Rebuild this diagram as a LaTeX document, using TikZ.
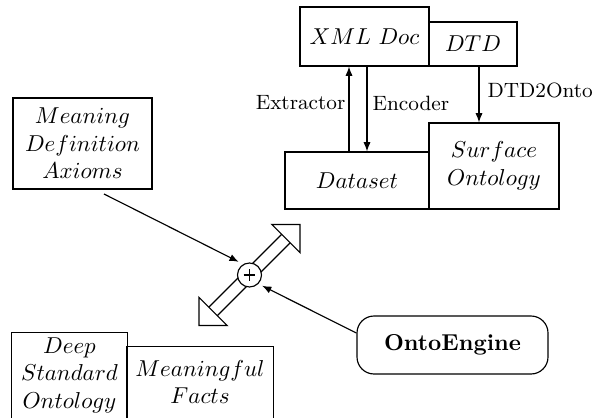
\documentclass[tikz,border=0pt]{standalone}
\usetikzlibrary{arrows.meta}
\newcommand\pxu{0.43478pt}
\begin{document}
\begin{tikzpicture}[x=0.43478pt,y=-0.43478pt, line width=0.5pt,
  box/.style={draw, inner sep=0pt, align=center, font=\normalsize},
  txt/.style={inner sep=0pt, align=center, font=\normalsize},
  lbl/.style={inner sep=0pt, font=\small},
  arr/.style={-{Latex[length=4pt,width=3.1pt]}}]
\clip (0,0) rectangle (592,418);
% top group
\node[box, minimum width=129*\pxu, minimum height=59*\pxu] (xml) at (364.5,36.5) {$XML\ Doc$};
\node[box, minimum width=88*\pxu, minimum height=44*\pxu] (dtd) at (473,44) {$DTD$};
\node[box, minimum width=144*\pxu, minimum height=57*\pxu] (dataset) at (357,180.5) {$Dataset$};
\node[box, minimum width=130*\pxu, minimum height=86*\pxu] (surface) at (494,166) {$Surface$\\$Ontology$};
% left box
\node[box, minimum width=139*\pxu, minimum height=91*\pxu] (meaning) at (82.5,143.5) {$Meaning$\\$Definition$\\$Axioms$};
% bottom boxes (cut by the frame)
\node[txt, minimum width=115*\pxu, minimum height=84*\pxu] (deep) at (69.5,375) {$Deep$\\$Standard$\\$Ontology$};
\node[txt, minimum width=146*\pxu, minimum height=70*\pxu] (facts) at (200,382) {$Meaningful$\\$Facts$};
\draw ([yshift=-10pt]deep.south west) |- (deep.north east) -- ([yshift=-10pt]deep.south east);
\draw ([yshift=-10pt]facts.south west) |- (facts.north east) -- ([yshift=-10pt]facts.south east);
% OntoEngine
\node[draw, rounded corners=7.4pt, inner sep=0pt, minimum width=191*\pxu, minimum height=58*\pxu] (oe) at (452.5,345) {\textbf{OntoEngine}};
% double arrow
\begin{scope}[shift={(249.5,275)}, rotate=45, x=0.43478pt, y=0.43478pt]
  \draw (51.5,20) -- (71.5,0) -- (51.5,-20) -- cycle;
  \draw (-51.5,20) -- (-71.5,0) -- (-51.5,-20) -- cycle;
  \draw (-51.5,6) -- (51.5,6);
  \draw (-51.5,-6) -- (51.5,-6);
\end{scope}
\node[circle, draw, fill=white, minimum size=24*\pxu, inner sep=0pt] (c) at (249.5,275) {};
\draw ([xshift=-2.6pt]c.center) -- ([xshift=2.6pt]c.center);
\draw ([yshift=-2.6pt]c.center) -- ([yshift=2.6pt]c.center);
% connectors
\coordinate (ex) at (349,100);
\coordinate (en) at (367,100);
\coordinate (dt) at (479,90);
\draw[arr] (ex |- dataset.north) -- (ex |- xml.south);
\draw[arr] (en |- xml.south) -- (en |- dataset.north);
\draw[arr] (dt |- dtd.south) -- (dt |- surface.north);
\node[lbl, anchor=east] (lex) at (346,103) {Extractor};
\node[lbl, anchor=west] (len) at (372,103) {Encoder};
\node[lbl, anchor=west] (ldt) at (487,90) {DTD2Onto};
\coordinate (ms) at (104,194);
\draw[arr, shorten >=2.2pt] (ms) -- (c.120);
\draw[arr, shorten >=1.8pt] ([yshift=5.2pt]oe.west) -- (c.-45);
\end{tikzpicture}
\end{document}
